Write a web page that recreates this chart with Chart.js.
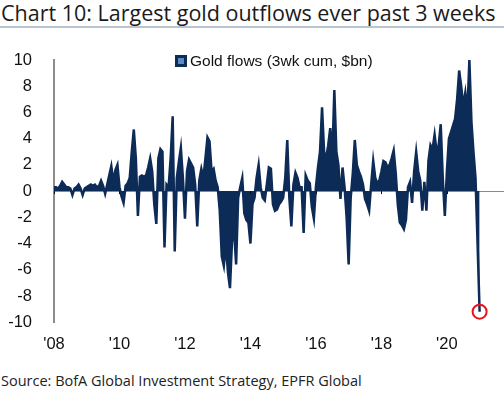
<!DOCTYPE html>
<html>
<head>
<meta charset="utf-8">
<script src="https://cdn.jsdelivr.net/npm/chart.js@4.4.1/dist/chart.umd.min.js"></script>
<style>
  body { margin: 0; background: #fff; width: 504px; height: 394px; overflow: hidden; position: relative; }
  #titre { position: absolute; left: 1px; top: 0px; font-family: "Open Sans", sans-serif; font-size: 21.5px; color: #1a1a1a; white-space: nowrap; line-height: 26px; }
  #regle { position: absolute; left: 0; top: 26px; width: 504px; height: 2px; background: #b8c4d2; }
  #zone { position: absolute; left: 0; top: 30px; width: 504px; height: 328px; }
  #legende { position: absolute; left: 175px; top: 52px; font-family: "Liberation Sans", Arial, sans-serif; font-size: 15.5px; color: #111; white-space: nowrap; line-height: 18px; }
  #legende span.carre { display: inline-block; width: 6px; height: 6px; border: 3px solid #0d2b57; background: #5a8ac6; vertical-align: -1px; margin-right: 3px; }
  #source { position: absolute; left: 1px; top: 371px; font-family: "Open Sans", sans-serif; font-size: 14.5px; color: #222; white-space: nowrap; }
</style>
</head>
<body>
<div id="titre">Chart 10: Largest gold outflows ever past 3 weeks</div>
<div id="regle"></div>
<div id="zone"><canvas id="monGraphique"></canvas></div>
<div id="legende"><span class="carre"></span><span id="legende-texte"></span></div>
<div id="source">Source: BofA Global Investment Strategy, EPFR Global</div>
<script>
// Données (3 semaines cumulées, $bn), un point tous les 1/16 d'année depuis 2008
const startYear = 2008;
const step = 1 / 16;
const flows = [
  0.3, 0.3, 0.2, 0.4, 0.7, 0.5, 0.3, 0.3, 0.2, -0.3,
  0.2, 0.3, 0.5, 0.2, -0.3, 0.2, 0.3, 0.4, 0.5, 0.4,
  0.5, 0.3, 0.4, 0.8, 0.4, -0.2, 0.5, 1.2, 1.9, 0.7,
  1.6, 2.0, 0.3, -0.4, -0.9, 0.4, 0.6, 1.0, 3.0, 4.7,
  2.5, -1.9, 1.1, 1.2, 1.1, 1.2, 1.8, 2.5, 1.5, -1.0,
  -2.5, 2.5, 3.2, 3.0, -4.3, 0.5, 0.3, 2.5, 5.7, -4.6,
  1.0, 2.2, 3.3, 1.0, -2.1, 1.5, 2.4, 2.1, 1.8, 0.5,
  -2.7, 0.8, 1.7, 1.0, 2.5, 4.1, 3.8, 1.5, 1.7, 0.8,
  0.3, -1.5, -5.0, -5.7, -4.0, -6.2, -7.4, -3.8, -3.0, -5.6,
  -0.5, 0.3, 1.0, -1.7, -2.2, -2.4, -4.0, -1.0, -0.5, 1.0,
  2.0, 0.3, -0.5, -0.7, 0.5, 1.8, 1.7, -1.0, -1.5, -1.4,
  -1.0, -0.8, -0.5, 1.0, 3.9, -0.5, -2.7, 0.5, 1.4, 1.0,
  0.3, 0.3, -3.2, 1.2, 0.8, 0.6, -1.2, -2.1, 0.3, 1.8,
  3.0, 6.4, 3.0, 2.5, 3.5, 4.8, 2.5, 7.7, 3.0, 2.0,
  -0.6, 1.8, 0.3, -2.0, -5.6, -0.5, 1.3, 3.9, 2.0, 1.5,
  1.1, 0.5, -0.6, -1.0, -1.5, 0.5, 2.3, 1.0, 0.6, 0.8,
  1.5, 2.3, 2.2, 1.8, 2.0, 2.5, 3.1, 1.4, -1.0, -2.4,
  -2.6, -2.9, -2.2, 0.3, 0.7, -0.9, 1.5, 3.0, 1.5, 0.8,
  -1.5, 0.7, -1.5, 2.3, 3.5, 3.2, 4.3, 3.0, 3.5, 5.1,
  1.0, -1.9, 1.5, 4.0, 4.5, 5.0, 5.5, 7.0, 9.2, 8.0,
  6.5, 7.5, 6.0, 10.0, 5.3, 3.0, 1.0, -4.0, -9.2
];
const tickYears = [2008, 2010, 2012, 2014, 2016, 2018, 2020];
const yTicks = [-10, -8, -6, -4, -2, 0, 2, 4, 6, 8, 10];
const legendLabel = 'Gold flows (3wk cum, $bn)';

document.getElementById('legende-texte').textContent = legendLabel;

const bleuFonce = '#0d2b57';
const dernier = flows.length - 1;
const police = '"Liberation Sans", Arial, sans-serif';

// Ligne zéro grise (jusqu'au bord) + petits repères des années
const repereZero = {
    id: 'repereZero',
    beforeDatasetsDraw(chart) {
        const { ctx, chartArea, scales } = chart;
        const y0 = Math.round(scales.y.getPixelForValue(0)) + 0.5;
        ctx.save();
        ctx.strokeStyle = '#8a8a8a';
        ctx.lineWidth = 1;
        ctx.beginPath();
        ctx.moveTo(chartArea.left, y0);
        ctx.lineTo(chart.width, y0);
        ctx.stroke();
        ctx.restore();
    },
    afterDatasetsDraw(chart) {
        const { ctx, scales } = chart;
        const y0 = scales.y.getPixelForValue(0);
        ctx.save();
        ctx.strokeStyle = '#111';
        ctx.lineWidth = 1;
        tickYears.forEach(a => {
            const x = Math.round(scales.x.getPixelForValue(a)) + 0.5;
            ctx.beginPath();
            ctx.moveTo(x, y0);
            ctx.lineTo(x, y0 + 3);
            ctx.stroke();
        });
        ctx.restore();
    }
};

const ctx = document.getElementById('monGraphique').getContext('2d');
new Chart(ctx, {
    type: 'line',
    data: {
        datasets: [{
            label: legendLabel,
            data: flows.map((v, i) => ({ x: startYear + i * step, y: v })),
            borderColor: bleuFonce,
            backgroundColor: bleuFonce,
            borderWidth: 2.5,
            fill: 'origin',
            tension: 0,
            pointRadius: c => (c.dataIndex === dernier ? 7 : 0),
            pointBorderColor: '#e8141b',
            pointBackgroundColor: 'rgba(0,0,0,0)',
            pointBorderWidth: 2
        }]
    },
    options: {
        responsive: true,
        maintainAspectRatio: false,
        animation: false,
        layout: { padding: { top: 30, right: 2, left: 0, bottom: 0 } },
        plugins: {
            legend: { display: false },
            tooltip: { enabled: false }
        },
        scales: {
            x: {
                type: 'linear',
                min: 2008,
                max: 2021.47,
                afterBuildTicks: s => { s.ticks = tickYears.map(v => ({ value: v })); },
                grid: { display: false },
                border: { display: false },
                ticks: {
                    padding: 4,
                    color: '#111',
                    font: { family: police, size: 16.5 },
                    callback: v => "'" + String(v).slice(2)
                }
            },
            y: {
                min: -10,
                max: 10,
                afterBuildTicks: s => { s.ticks = yTicks.map(v => ({ value: v })); },
                afterFit: s => { s.width = 54; },
                grid: { display: false },
                border: { display: true, color: '#8c8c8c', width: 2 },
                ticks: {
                    padding: 14,
                    color: '#111',
                    font: { family: police, size: 16.5 }
                }
            }
        }
    },
    plugins: [repereZero]
});
</script>
</body>
</html>
